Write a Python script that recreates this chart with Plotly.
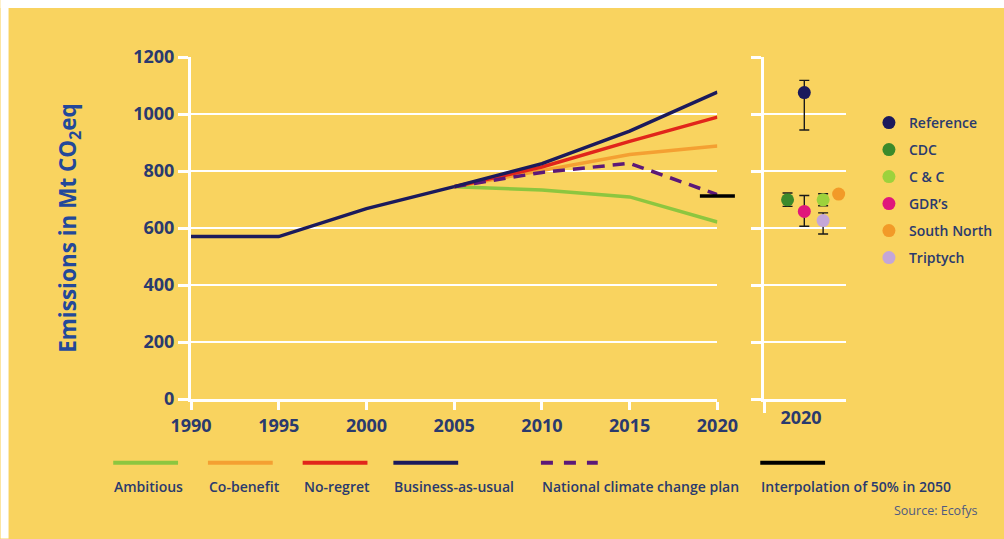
import plotly.graph_objects as go

# ---- data -------------------------------------------------------------
years_hist = [1990, 1995, 2000, 2005]
bau_hist = [570, 570, 668, 745]

years_proj = [2005, 2010, 2015, 2020]
ambitious = [745, 733, 709, 621]
co_benefit = [745, 802, 858, 888]
no_regret = [745, 814, 904, 989]
business_as_usual = [745, 826, 940, 1077]
national_plan = [745, 795, 827, 717]

interp_year = [2020]
interp_value = [712]

# 2020 estimates from allocation approaches (value, upper, lower)
approaches = ["Reference", "CDC", "C & C", "GDR\u2019s", "South North", "Triptych"]
approach_value = [1075, 699, 699, 658, 719, 626]
approach_high = [1118, 723, 720, 714, 724, 653]
approach_low = [944, 676, 678, 606, 714, 579]

x_ticks = [1990, 1995, 2000, 2005, 2010, 2015, 2020]
y_ticks = [0, 200, 400, 600, 800, 1000, 1200]

# ---- styling ----------------------------------------------------------
BG = "#F9D35F"
NAVY_TXT = "#2A3A6E"
TITLE_BLUE = "#23489A"
FONT = "Open Sans"

line_colors = {
    "Ambitious": "#8DC63F",
    "Co-benefit": "#F4A032",
    "No-regret": "#E1251B",
    "Business-as-usual": "#1B1A5C",
    "National climate change plan": "#5C1878",
    "Interpolation of 50% in 2050": "#000000",
}
dot_colors = {
    "Reference": "#1B1A5C",
    "CDC": "#3C8A2B",
    "C & C": "#9DD23C",
    "GDR\u2019s": "#E0177B",
    "South North": "#F29A28",
    "Triptych": "#C4A6D8",
}
# horizontal slot of each marker within the 2020 panel (0..1)
dot_slot = {
    "Reference": 0.49,
    "CDC": 0.285,
    "C & C": 0.72,
    "GDR\u2019s": 0.49,
    "South North": 0.91,
    "Triptych": 0.72,
}

# ---- figure geometry (pixels) ----------------------------------------
W, H = 1010, 539
ML, MR, MT = 191, W - 848, 57
PLOT_BOTTOM = 399.3
MB = H - PLOT_BOTTOM
PW = W - ML - MR
PH = PLOT_BOTTOM - MT


def px_x(p):
    """figure x pixel -> paper fraction"""
    return (p - ML) / PW


def px_y(q):
    """figure y pixel -> paper fraction"""
    return (PLOT_BOTTOM - q) / PH


fig = go.Figure()

# ---- main panel lines -------------------------------------------------
LW = 3.5
fig.add_trace(go.Scatter(x=years_hist, y=bau_hist, mode="lines",
                         line=dict(color=line_colors["Business-as-usual"], width=LW),
                         showlegend=False, hoverinfo="skip"))
series = [
    ("Ambitious", ambitious, "solid"),
    ("Co-benefit", co_benefit, "solid"),
    ("No-regret", no_regret, "solid"),
    ("National climate change plan", national_plan, "12px,8px"),
    ("Business-as-usual", business_as_usual, "solid"),
]
for name, vals, dash in series:
    fig.add_trace(go.Scatter(x=years_proj, y=vals, mode="lines", name=name,
                             line=dict(color=line_colors[name], width=LW, dash=dash),
                             showlegend=False))

fig.add_trace(go.Scatter(x=interp_year, y=interp_value, mode="markers",
                         name="Interpolation of 50% in 2050",
                         marker=dict(symbol="line-ew", size=25,
                                     line=dict(color="#000000", width=3.5)),
                         cliponaxis=False, showlegend=False))

# ---- 2020 panel markers ----------------------------------------------
for i, name in enumerate(approaches):
    v = approach_value[i]
    fig.add_trace(go.Scatter(
        x=[dot_slot[name]], y=[v], mode="markers", name=name,
        xaxis="x2", yaxis="y2",
        marker=dict(size=13, color=dot_colors[name]),
        error_y=dict(type="data", symmetric=False,
                     array=[approach_high[i] - v], arrayminus=[v - approach_low[i]],
                     color="#1a1a1a", thickness=1.4, width=5),
        legendgroup=name, cliponaxis=False,
    ))

# ---- bottom legend for the scenario lines -----------------------------
legend_items = [
    ("Ambitious", 113, 65),
    ("Co-benefit", 208, 65),
    ("No-regret", 303, 65),
    ("Business-as-usual", 394, 65),
    ("National climate change plan", 542, 57),
    ("Interpolation of 50% in 2050", 762, 65),
]
shapes = []
annotations = []
for name, x0, w in legend_items:
    dash = "12px,11px" if name == "National climate change plan" else "solid"
    shapes.append(dict(type="line", xref="paper", yref="paper",
                       x0=px_x(x0), x1=px_x(x0 + w), y0=px_y(463), y1=px_y(463),
                       line=dict(color=line_colors[name], width=4, dash=dash)))
    annotations.append(dict(text=name, xref="paper", yref="paper",
                            x=px_x(x0 - 1), y=px_y(487), xanchor="left", yanchor="middle",
                            showarrow=False,
                            font=dict(family=FONT, size=14, color=NAVY_TXT, weight=600)))

annotations.append(dict(text="Source: Ecofys", xref="paper", yref="paper",
                        x=px_x(982), y=px_y(511), xanchor="right", yanchor="middle",
                        showarrow=False,
                        font=dict(family=FONT, size=12.5, color="#4F5A80")))

# white frame strips along the top and left edges
shapes.append(dict(type="rect", xref="paper", yref="paper", layer="below",
                   x0=px_x(0), x1=px_x(W), y0=px_y(0), y1=px_y(8),
                   fillcolor="white", line=dict(width=0)))
shapes.append(dict(type="rect", xref="paper", yref="paper", layer="below",
                   x0=px_x(0), x1=px_x(8), y0=px_y(0), y1=px_y(H),
                   fillcolor="white", line=dict(width=0)))

tick_font = dict(family=FONT, size=18, color=NAVY_TXT, weight=700)

axis_common = dict(showline=True, linecolor="white", linewidth=3,
                   zeroline=False, fixedrange=True)

fig.update_layout(
    width=W, height=H,
    margin=dict(l=ML, r=MR, t=MT, b=MB, pad=0),
    paper_bgcolor=BG, plot_bgcolor=BG,
    xaxis=dict(domain=[0, px_x(719)], range=[1990, 2020],
               tickvals=x_ticks, ticks="outside", ticklen=8, tickwidth=3,
               tickcolor="white", showgrid=False, tickfont=tick_font,
               anchor="y", **axis_common),
    yaxis=dict(range=[0, 1200], tickvals=y_ticks, ticks="outside", ticklen=10,
               tickwidth=3, tickcolor="white", showgrid=True, gridcolor="white",
               gridwidth=2, tickfont=tick_font, anchor="x",
               title=dict(text="Emissions in Mt CO<sub>2</sub>eq", standoff=51,
                          font=dict(family=FONT, size=22.5, color=TITLE_BLUE, weight=700)),
               **axis_common),
    xaxis2=dict(domain=[px_x(766), 1], range=[0, 1], anchor="y2",
                tickvals=[0.45], ticktext=["2020"], ticks="", tickfont=tick_font,
                showgrid=False,
                minor=dict(tickmode="array", tickvals=[0], ticks="outside", ticklen=11,
                           tickwidth=3, tickcolor="white", showgrid=False),
                **axis_common),
    yaxis2=dict(range=[0, 1200], tickvals=y_ticks, ticks="outside", ticklen=10,
                tickwidth=3, tickcolor="white", showticklabels=False, showgrid=True,
                gridcolor="white", gridwidth=2, anchor="x2", **axis_common),
    showlegend=True,
    legend=dict(x=px_x(871), y=px_y(107), xanchor="left", yanchor="top",
                bgcolor="rgba(0,0,0,0)", traceorder="grouped", tracegroupgap=5.8,
                font=dict(family=FONT, size=14, color=NAVY_TXT, weight=600),
                itemclick=False, itemdoubleclick=False),
    shapes=shapes,
    annotations=annotations,
    hovermode=False,
)

fig.write_html("out.html")
